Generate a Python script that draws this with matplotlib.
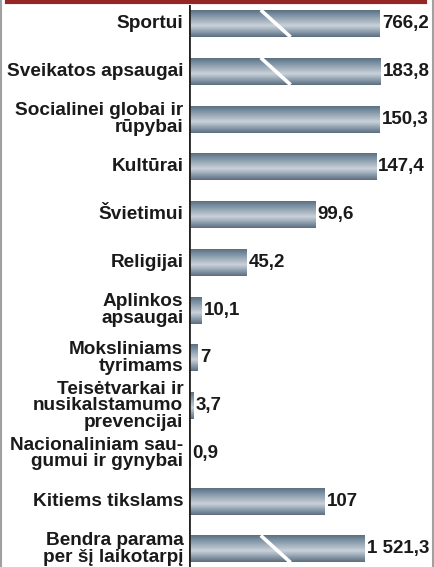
import numpy as np
import matplotlib.pyplot as plt
from matplotlib.colors import LinearSegmentedColormap

labels = ["Sportui", "Sveikatos apsaugai", "Socialinei globai ir\nrūpybai", "Kultūrai",
          "Švietimui", "Religijai", "Aplinkos\napsaugai", "Moksliniams\ntyrimams",
          "Teisėtvarkai ir\nnusikalstamumo\nprevencijai", "Nacionaliniam sau-\ngumui ir gynybai",
          "Kitiems tikslams", "Bendra parama\nper šį laikotarpį"]
values = [766.2, 183.8, 150.3, 147.4, 99.6, 45.2, 10.1, 7, 3.7, 0.9, 107, 1521.3]
value_text = ["766,2", "183,8", "150,3", "147,4", "99,6", "45,2", "10,1", "7", "3,7", "0,9", "107", "1 521,3"]
# bars longer than this are drawn cut (broken) at the cap
cap = {0: 150.3, 1: 151.0, 11: 138.5}

plt.rcParams['font.family'] = ['Liberation Sans', 'DejaVu Sans']

fig = plt.figure(figsize=(4.35, 5.67), dpi=100)
W, H = 435, 567
ax = fig.add_axes([189 / W, 0, (W - 189) / W, (H - 5) / H])

n = len(values)
ypos = np.arange(n)
bh = 0.565
ax.set_ylim(n - 1 + 0.377, -0.387)

cmap = LinearSegmentedColormap.from_list(
    "metal", [(0, "#5c7082"), (0.15, "#768c9f"), (0.58, "#cad1d9"),
              (0.85, "#8193a3"), (1, "#5d6f7f")])
grad = np.linspace(0, 1, 64).reshape(-1, 1)

for i, v in enumerate(values):
    length = cap.get(i, v)
    y0 = ypos[i] - bh / 2
    ax.imshow(grad, cmap=cmap, aspect='auto', interpolation='bilinear',
              extent=(0, length, y0 + bh, y0), zorder=2)
    if i in cap:
        ax.plot([56.5, 80], [y0, y0 + bh], color='white',
                lw=2.6, solid_capstyle='butt', zorder=3)
    ax.text(length + 1.5, ypos[i], value_text[i], ha='left', va='center',
            fontsize=13.5, fontweight='bold', color='#1a1a1a', zorder=4)
    ax.text(-4.5, ypos[i], labels[i], ha='right', va='center', fontsize=13.7,
            fontweight='bold', color='#1a1a1a', linespacing=0.95,
            clip_on=False)

ax.set_xlim(0, (W - 189) / 1.27)
ax.axvline(0, color='#222222', lw=2, zorder=5)
for s in ax.spines.values():
    s.set_visible(False)
ax.set_xticks([])
ax.set_yticks([])

# top red rule and light frame
fig.add_artist(plt.Line2D([7 / W, 425 / W], [1 - 1.5 / H, 1 - 1.5 / H],
                          color='#962626', lw=3))
fig.add_artist(plt.Line2D([1 / W, 1 / W], [0, 1], color='#a0a0a0', lw=1.5))
fig.add_artist(plt.Line2D([433.5 / W, 433.5 / W], [0, 1], color='#a0a0a0', lw=1.5))

fig.savefig("out.png", dpi=100)
